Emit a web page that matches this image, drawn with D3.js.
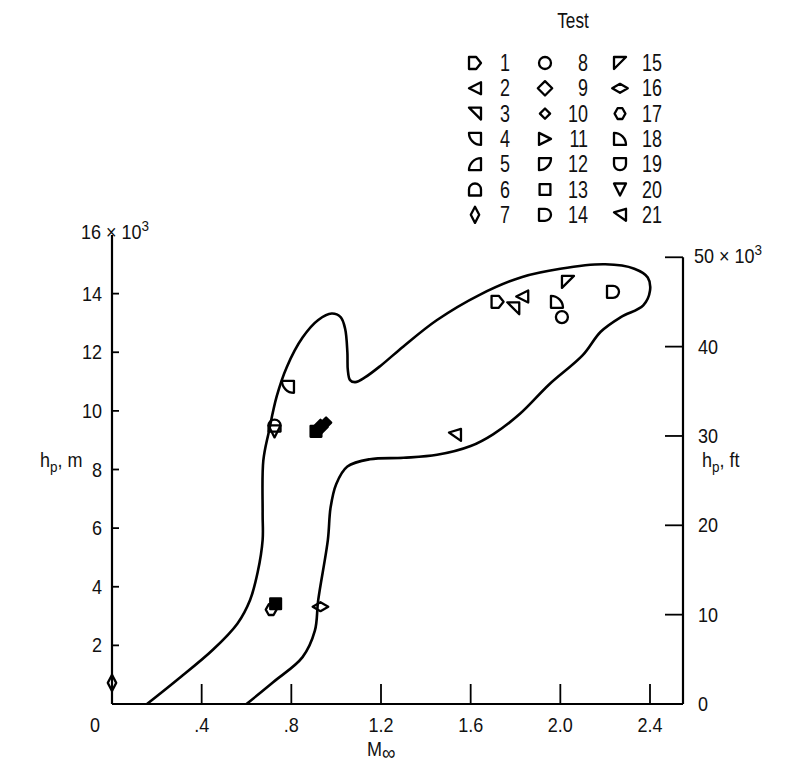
<!DOCTYPE html>
<html><head><meta charset="utf-8">
<script src="https://cdn.jsdelivr.net/npm/d3@7"></script>
<style>
body{margin:0;background:#fff;}
text{font-family:'Liberation Sans',Arial,sans-serif;fill:#111;}
</style></head>
<body><svg id="c" width="793" height="768"></svg>
<script>
// ---- data ----
const xTicks = [0.4, 0.8, 1.2, 1.6, 2.0, 2.4];
const xTickLabels = [".4", ".8", "1.2", "1.6", "2.0", "2.4"];
const yTicksM = [2, 4, 6, 8, 10, 12, 14];
const yTicksFt = [10, 20, 30, 40, 50];
const testIds = [1,2,3,4,5,6,7,8,9,10,11,12,13,14,15,16,17,18,19,20,21];
// data points: Mach, altitude (10^3 m), test number
const ptM    = [0.00, 0.73, 0.71, 0.93, 0.785, 0.725, 0.725, 0.91, 0.93, 0.955, 1.53, 1.72, 1.79, 1.83, 1.985, 2.007, 2.034, 2.235];
const ptH    = [0.72, 3.42, 3.22, 3.32, 10.82, 9.50, 9.30, 9.30, 9.45, 9.60, 9.18, 13.72, 13.50, 13.90, 13.72, 13.20, 14.40, 14.06];
const ptTest = [7, 13, 17, 16, 4, 6, 20, 13, 9, 10, 21, 1, 3, 2, 18, 8, 15, 14];
const ptFill = [0, 1, 0, 0, 0, 0, 0, 1, 1, 1, 0, 0, 0, 0, 0, 0, 0, 0];
// envelope boundary
const envM = [0.156,0.29,0.45,0.56,0.616,0.65,0.672,0.672,0.675,0.70,0.735,0.78,0.85,0.92,0.98,1.02,1.04,1.05,1.052,1.062,1.085,1.13,1.20,1.30,1.45,1.64,1.83,2.00,2.20,2.33,2.39,2.40,2.37,2.27,2.18,2.10,1.95,1.82,1.70,1.60,1.45,1.30,1.15,1.05,1.00,0.975,0.963,0.92,0.905,0.85,0.72,0.60];
const envH = [0.0,0.82,1.85,2.75,3.55,4.5,5.6,6.5,8.3,9.3,10.5,11.5,12.5,13.1,13.32,13.2,12.8,12.0,11.4,11.05,10.98,11.15,11.55,12.2,13.1,13.96,14.57,14.85,15.0,14.85,14.55,14.1,13.6,13.2,12.7,11.9,10.9,9.9,9.2,8.8,8.5,8.4,8.35,8.1,7.5,6.7,5.6,3.55,2.5,1.6,0.75,0.0];

// ---- layout ----
const svg = d3.select("#c");
const x = d3.scaleLinear().domain([0, 2.4]).range([112, 650]);
const y = d3.scaleLinear().domain([0, 16]).range([704, 235]);
const yFt = d3.scaleLinear().domain([0, 50]).range([704, y(50*0.3048)]);
const axisRight = 683;
const fs = 20, sxA = 0.9, sxL = 0.78;

// text helper with horizontal condensing
function txt(px, py, anchor, size, sx){
  return svg.append("text").attr("transform",`translate(${px},${py}) scale(${sx},1)`)
    .attr("text-anchor",anchor).attr("font-size",size);
}

// axes lines
svg.append("line").attr("x1", x(0)).attr("x2", axisRight).attr("y1", y(0)).attr("y2", y(0)).attr("stroke","#000").attr("stroke-width",2.2);
svg.append("line").attr("x1", x(0)).attr("x2", x(0)).attr("y1", y(0)).attr("y2", y(16)).attr("stroke","#000").attr("stroke-width",2.2);
svg.append("line").attr("x1", axisRight).attr("x2", axisRight).attr("y1", y(0)).attr("y2", yFt(50)).attr("stroke","#000").attr("stroke-width",2.2);

// x ticks (inward)
xTicks.forEach((t,i)=>{
  svg.append("line").attr("x1",x(t)).attr("x2",x(t)).attr("y1",y(0)).attr("y2",y(0)-20).attr("stroke","#000").attr("stroke-width",1.8);
  txt(x(t), 732, "middle", fs, sxA).text(xTickLabels[i]);
});
txt(95, 732, "middle", fs, sxA).text("0");
// M infinity label
const ml = txt(367, 756, "start", fs, sxA);
ml.append("tspan").text("M");
ml.append("tspan").attr("dy",4).attr("font-size",21).text("∞");

// left ticks
yTicksM.forEach(t=>{
  svg.append("line").attr("x1",x(0)).attr("x2",x(0)+7).attr("y1",y(t)).attr("y2",y(t)).attr("stroke","#000").attr("stroke-width",1.8);
  txt(102, y(t)+7, "end", fs, sxA).text(t);
});
const lt = txt(81, y(16)+4, "start", fs, sxA);
lt.append("tspan").text("16 × 10");
lt.append("tspan").attr("dy",-8).attr("font-size",15).text("3");

// right ticks (inward)
yTicksFt.forEach(t=>{
  svg.append("line").attr("x1",axisRight).attr("x2",axisRight-18).attr("y1",yFt(t)).attr("y2",yFt(t)).attr("stroke","#000").attr("stroke-width",1.8);
  if (t < 50) txt(698, yFt(t)+7, "start", fs, sxA).text(t);
});
txt(698, yFt(0)+7, "start", fs, sxA).text("0");
const rt = txt(694, yFt(50)+6, "start", fs, sxA);
rt.append("tspan").text("50 × 10");
rt.append("tspan").attr("dy",-8).attr("font-size",15).text("3");

// axis titles
function hpLabel(xx, yy, unit){
  const t = txt(xx, yy, "start", fs, sxA);
  t.append("tspan").text("h");
  t.append("tspan").attr("dy",5).attr("font-size",15).text("p");
  t.append("tspan").attr("dy",-5).text(", " + unit);
}
hpLabel(40, y(8.3)+6, "m");
hpLabel(702, y(8.3)+6, "ft");

// envelope
const envPts = envM.map((m,i)=>[x(m), y(envH[i])]);
svg.append("path").attr("d", d3.line().curve(d3.curveCatmullRom.alpha(0.5))(envPts))
  .attr("fill","none").attr("stroke","#000").attr("stroke-width",2.6);

// marker shapes (unit coords)
const shapes = {
  1:"M-1,-1L0.2,-1L1,0L0.2,1L-1,1Z",
  2:"M-1,0L1,-1L1,1Z",
  3:"M-1,-1L1,-1L1,1Z",
  4:"M-1,-1L1,-1L1,1A2,2 0 0 1 -1,-1Z",
  5:"M-1,1L1,1L1,-1A2,2 0 0 0 -1,1Z",
  6:"M-1,1L-1,0A1,1 0 0 1 1,0L1,1Z",
  7:"M0,-1.35L0.7,0L0,1.35L-0.7,0Z",
  8:"M-1,0A1,1 0 1 0 1,0A1,1 0 1 0 -1,0Z",
  9:"M0,-1.2L1.2,0L0,1.2L-1.2,0Z",
  10:"M0,-0.85L0.85,0L0,0.85L-0.85,0Z",
  11:"M-1,-1L1,0L-1,1Z",
  12:"M-1,1L-1,-1L1,-1A2,2 0 0 1 -1,1Z",
  13:"M-0.9,-0.9L0.9,-0.9L0.9,0.9L-0.9,0.9Z",
  14:"M-1,-1L0,-1A1,1 0 0 1 0,1L-1,1Z",
  15:"M-1,-1L1,-1L-1,1Z",
  16:"M-1.3,0L0,-0.75L1.3,0L0,0.75Z",
  17:"M-0.4,-0.9L0.4,-0.9L0.9,0L0.4,0.9L-0.4,0.9L-0.9,0Z",
  18:"M-1,-1L-1,1L1,1A2,2 0 0 0 -1,-1Z",
  19:"M-1,-1L1,-1L1,0A1,1 0 0 1 -1,0Z",
  20:"M-1,-1L1,-1L0,1Z",
  21:"M-1,-0.4L1,-1L1,1Z"
};
const mk = 6;
function marker(g, px, py, id, filled){
  g.append("path").attr("d", shapes[id])
    .attr("transform", `translate(${px},${py}) scale(${mk})`)
    .attr("fill", filled ? "#000" : "none").attr("stroke","#000")
    .attr("stroke-width", 2.3/mk).attr("stroke-linejoin","round");
}
const pg = svg.append("g");
ptM.forEach((m,i)=>marker(pg, x(m), y(ptH[i]), ptTest[i], ptFill[i]));

// legend
txt(573, 28, "middle", 22, sxL).text("Test");
const colMk = [475, 545, 620];
const colTx = [500, 588, 642];
const colAnchor = ["start","end","start"];
testIds.forEach((id,i)=>{
  const c = Math.floor(i/7), r = i%7;
  const yy = 63 + r*25.3;
  marker(svg, colMk[c], yy, id, false);
  txt(colTx[c], yy+8, colAnchor[c], 23, sxL).text(id);
});
</script></body></html>
